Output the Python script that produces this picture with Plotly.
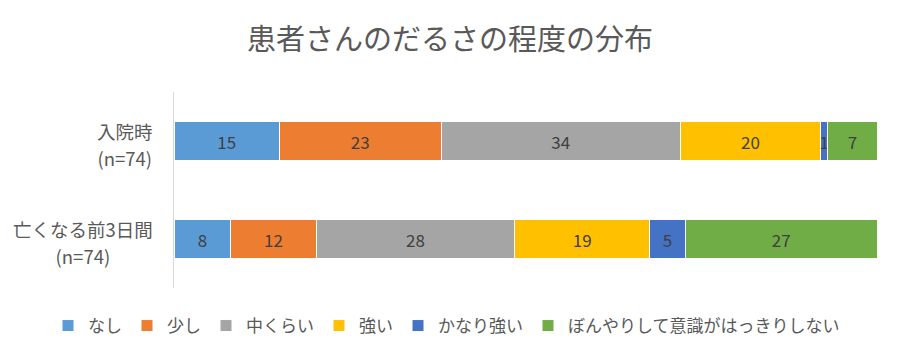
import plotly.graph_objects as go

categories = ["入院時", "亡くなる前3日間"]
category_notes = ["(n=74)", "(n=74)"]
series_names = ["なし", "少し", "中くらい", "強い", "かなり強い", "ぼんやりして意識がはっきりしない"]
values_nashi = [15, 8]
values_sukoshi = [23, 12]
values_naka = [34, 28]
values_tsuyoi = [20, 19]
values_kanari = [1, 5]
values_bonyari = [7, 27]
colors = ["#5B9BD5", "#ED7D31", "#A5A5A5", "#FFC000", "#4472C4", "#70AD47"]

all_values = [values_nashi, values_sukoshi, values_naka, values_tsuyoi, values_kanari, values_bonyari]

FONT = "Noto Sans CJK JP"

fig = go.Figure()
for name, vals, col in zip(series_names, all_values, colors):
    fig.add_trace(go.Bar(
        y=categories, x=vals, name=name, orientation="h",
        marker=dict(color=col, line=dict(color="white", width=1)),
        text=[str(v) for v in vals], textposition="inside",
        insidetextanchor="middle", textangle=0,
        textfont=dict(size=17, color="#404040", family=FONT),
        constraintext="none",
    ))

# category labels (two centered lines, right edge 19px left of the axis)
for cat, note in zip(categories, category_notes):
    fig.add_annotation(
        x=0, xref="paper", y=cat, yref="y", xanchor="right", yanchor="middle",
        xshift=-19, yshift=-3, align="center", showarrow=False,
        text=f"<span style='font-size:18.5px'>{cat}</span><br><span style='font-size:18.5px'>{note}</span>",
        font=dict(size=21, color="#595959", family=FONT),
    )

# page body has an 8px margin; compensate so the drawing lines up with the window
fig.update_layout(
    width=900, height=360,
    barmode="stack", barnorm="percent", bargap=0.6,
    plot_bgcolor="white", paper_bgcolor="white",
    margin=dict(l=166, r=31, t=84, b=80, autoexpand=False),
    font=dict(family=FONT, color="#595959"),
    uniformtext=dict(minsize=17, mode="show"),
    title=dict(text="患者さんのだるさの程度の分布", x=(450 - 8) / 900, xref="container", xanchor="center",
               y=1 - 32 / 360, yref="container", yanchor="middle",
               font=dict(size=29, color="#595959", family=FONT)),
    legend=dict(orientation="h", x=(40 - 166) / 703, xanchor="left", xref="paper",
                y=(196 - 38) / 196 - 1, yref="paper", yanchor="middle",
                font=dict(size=17, color="#595959", family=FONT),
                traceorder="normal", itemwidth=30),
    showlegend=True,
)
fig.update_xaxes(range=[0, 100], showgrid=False, showticklabels=False, zeroline=False,
                 showline=False, ticks="")
fig.update_yaxes(autorange="reversed", showline=True, linecolor="#D9D9D9", linewidth=1,
                 ticks="", showticklabels=False, showgrid=False)

fig.write_html("out.html")
